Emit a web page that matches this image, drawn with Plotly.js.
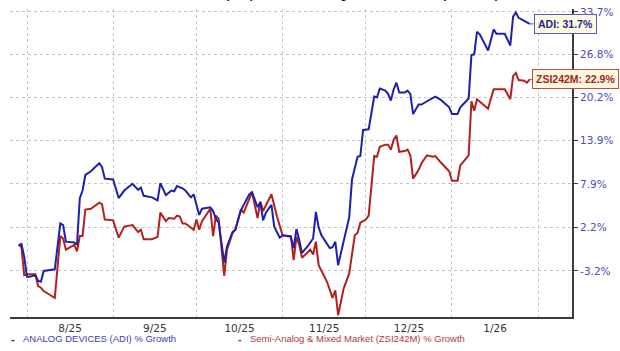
<!DOCTYPE html>
<html>
<head>
<meta charset="utf-8">
<script src="https://cdn.plot.ly/plotly-3.0.1.min.js"></script>
<style>html,body{margin:0;padding:0;background:#fff;}#chart{width:620px;height:351px;}</style>
</head>
<body>
<div id="chart"></div>
<script>
// ---- data (percent growth since start) ----
const adiDates = [
 '2025-07-29','2025-07-30','2025-07-31',
 '2025-08-01','2025-08-02','2025-08-04','2025-08-05','2025-08-06','2025-08-07','2025-08-10','2025-08-11','2025-08-13','2025-08-14','2025-08-15','2025-08-18','2025-08-19','2025-08-20','2025-08-21','2025-08-22','2025-08-24','2025-08-27','2025-08-28','2025-08-29',
 '2025-09-01','2025-09-03','2025-09-05','2025-09-08','2025-09-10','2025-09-11','2025-09-12','2025-09-15','2025-09-17','2025-09-18','2025-09-20','2025-09-22','2025-09-23','2025-09-24','2025-09-26','2025-09-27','2025-09-29','2025-09-30',
 '2025-10-02','2025-10-03','2025-10-06','2025-10-07','2025-10-08','2025-10-09','2025-10-11','2025-10-12','2025-10-14','2025-10-15','2025-10-17','2025-10-18','2025-10-20','2025-10-21','2025-10-23','2025-10-24','2025-10-25','2025-10-26','2025-10-28','2025-10-29','2025-10-31',
 '2025-11-01','2025-11-04','2025-11-05','2025-11-06','2025-11-07','2025-11-08','2025-11-10','2025-11-12','2025-11-13','2025-11-14','2025-11-15','2025-11-18','2025-11-19','2025-11-20','2025-11-21','2025-11-23','2025-11-25','2025-11-26','2025-11-28','2025-11-29','2025-11-30',
 '2025-12-02','2025-12-04','2025-12-05','2025-12-06','2025-12-08','2025-12-09','2025-12-10','2025-12-11','2025-12-12','2025-12-13','2025-12-15','2025-12-16','2025-12-17','2025-12-18','2025-12-20','2025-12-21','2025-12-23','2025-12-26','2025-12-28','2025-12-30','2025-12-31',
 '2026-01-01','2026-01-03','2026-01-04','2026-01-07','2026-01-08','2026-01-09','2026-01-10','2026-01-11','2026-01-14','2026-01-15','2026-01-16','2026-01-17','2026-01-20','2026-01-22','2026-01-23','2026-01-24','2026-01-25','2026-01-27','2026-01-29'
];
const adiGrowth = [
 0.0, 0.1, -1.5,
 -3.9, -3.9, -3.7, -4.4, -4.5, -3.2, -3.0, -3.0, 2.7, 2.5, 0.4, 0.3, 0.0, 6.0, 7.0, 9.1, 9.6, 10.7, 10.2, 8.6,
 8.5, 6.0, 7.0, 7.9, 7.1, 7.4, 6.3, 6.1, 5.7, 8.0, 6.4, 7.0, 6.9, 7.6, 7.3, 7.0, 6.1, 6.5,
 3.8, 4.6, 4.8, 4.3, 3.3, 2.8, -2.2, -0.2, 1.6, 1.9, 4.4, 5.1, 6.5, 6.8, 4.8, 5.5, 3.1, 4.1, 5.1, 2.3, 0.9,
 1.2, 1.0, -0.4, 2.0, 0.6, -1.0, -0.2, 0.8, 4.2, 2.2, 1.2, -0.4, -0.3, 0.4, -2.5, 0.6, 3.5, 8.5, 11.6, 11.7, 15.4,
 15.5, 20.3, 20.2, 21.5, 21.2, 20.7, 19.7, 21.4, 22.4, 20.9, 20.9, 21.2, 20.7, 17.7, 19.1, 19.1, 19.6, 20.3, 19.8, 19.1, 18.7,
 17.7, 17.7, 18.7, 20.0, 26.7, 26.8, 30.4, 30.0, 27.4, 29.2, 30.8, 30.1, 30.1, 28.2, 32.9, 33.6, 32.7, 32.2, 31.7
];
const zsiDates = [
 '2025-07-29','2025-07-30','2025-07-31',
 '2025-08-01','2025-08-04','2025-08-05','2025-08-06','2025-08-07','2025-08-09','2025-08-11','2025-08-13','2025-08-14','2025-08-15','2025-08-18','2025-08-19','2025-08-20','2025-08-21','2025-08-22','2025-08-24','2025-08-27','2025-08-28','2025-08-29',
 '2025-09-01','2025-09-03','2025-09-05','2025-09-08','2025-09-10','2025-09-11','2025-09-12','2025-09-15','2025-09-17','2025-09-18','2025-09-20','2025-09-21','2025-09-23','2025-09-24','2025-09-25','2025-09-26','2025-09-27','2025-09-29','2025-09-30',
 '2025-10-01','2025-10-02','2025-10-03','2025-10-06','2025-10-07','2025-10-08','2025-10-09','2025-10-11','2025-10-12','2025-10-14','2025-10-15','2025-10-17','2025-10-18','2025-10-21','2025-10-23','2025-10-24','2025-10-25','2025-10-28','2025-10-30','2025-10-31',
 '2025-11-01','2025-11-04','2025-11-05','2025-11-06','2025-11-07','2025-11-08','2025-11-10','2025-11-11','2025-11-12','2025-11-13','2025-11-14','2025-11-17','2025-11-19','2025-11-20','2025-11-21','2025-11-23','2025-11-25','2025-11-27','2025-11-28','2025-11-29',
 '2025-12-01','2025-12-02','2025-12-04','2025-12-05','2025-12-06','2025-12-08','2025-12-09','2025-12-10','2025-12-11','2025-12-12','2025-12-13','2025-12-15','2025-12-16','2025-12-17','2025-12-18','2025-12-20','2025-12-21','2025-12-23','2025-12-25','2025-12-26','2025-12-28','2025-12-30','2025-12-31',
 '2026-01-01','2026-01-03','2026-01-04','2026-01-07','2026-01-08','2026-01-09','2026-01-10','2026-01-14','2026-01-15','2026-01-16','2026-01-18','2026-01-20','2026-01-22','2026-01-23','2026-01-24','2026-01-25','2026-01-27','2026-01-28','2026-01-29'
];
const zsiGrowth = [
 0.0, -0.3, -3.7,
 -3.6, -3.6, -5.0, -5.2, -5.6, -6.0, -6.4, 1.1, 0.8, -0.6, 0.0, -0.8, 1.1, 1.1, 4.5, 4.6, 5.4, 5.2, 3.2,
 3.1, 0.9, 2.3, 2.5, 1.6, 1.9, 0.7, 0.7, 1.0, 4.1, 3.0, 3.4, 3.3, 3.7, 3.6, 2.7, 2.7, 2.1, 1.9,
 3.2, 1.9, 3.0, 4.6, 1.1, 3.7, 3.3, -3.8, -0.6, 1.5, 1.9, 4.5, 4.1, 6.8, 3.4, 5.5, 4.3, 6.5, 3.6, 2.5,
 1.2, 1.1, -1.9, 1.0, 0.0, -1.6, -1.0, -0.6, -1.2, 0.4, -2.5, -4.5, -6.4, -5.5, -8.4, -5.3, -3.5, 1.2, 1.5, 2.8,
 3.2, 3.7, 11.7, 11.6, 13.0, 13.3, 13.3, 12.6, 14.0, 14.6, 12.3, 12.4, 12.6, 11.8, 8.6, 9.8, 10.7, 11.8, 11.6, 11.7, 10.8, 10.0, 9.6,
 8.3, 8.3, 10.4, 11.8, 19.6, 18.2, 19.9, 18.5, 20.0, 21.4, 21.4, 21.4, 19.9, 23.4, 23.9, 22.8, 22.7, 22.4, 22.9
];
const yTickPct = [33.7, 26.8, 20.2, 13.9, 7.9, 2.2, -3.2];
const yRangePct = [-8.6, 34.17];
const xRange = ['2025-07-25 21:00', '2026-02-13 05:00'];
const adiName = 'ANALOG DEVICES (ADI) % Growth';
const zsiName = 'Semi-Analog &amp; Mixed Market (ZSI242M) % Growth';
const titleText = 'ANALOG DEVICES (ADI) vs Semi-Analog &amp; Mixed Market (ZSI242M)';

// ---- build ----
const toIdx = p => 1 + p / 100;
const blue = '#1f1fad', red = '#b32020';
const traces = [
  {x: zsiDates, y: zsiGrowth.map(toIdx), type: 'scatter', mode: 'lines', line: {color: red, width: 2}, hoverinfo: 'skip'},
  {x: adiDates, y: adiGrowth.map(toIdx), type: 'scatter', mode: 'lines', line: {color: blue, width: 2}, hoverinfo: 'skip'}
];
const lastA = adiGrowth[adiGrowth.length - 1], lastZ = zsiGrowth[zsiGrowth.length - 1];
const legendFont = {family: 'Liberation Sans, Arial, sans-serif', size: 9.5};
const annotations = [
  {xref: 'paper', yref: 'paper', x: 0.527, y: 1, yanchor: 'bottom', xanchor: 'center', yshift: 5.5, showarrow: false,
   text: '<b>' + titleText + '</b>', font: {family: 'Liberation Sans, Arial, sans-serif', size: 12, color: '#111'}},
  {x: adiDates[adiDates.length - 1], y: Math.log10(toIdx(lastA)), xref: 'x', yref: 'y', showarrow: true, arrowhead: 0, arrowwidth: 1,
   arrowcolor: '#5555c0', ax: 4, ay: 0, xanchor: 'left', text: '<b>ADI: ' + lastA.toFixed(1) + '%</b>',
   font: {family: 'Liberation Sans, Arial, sans-serif', size: 10.5, color: '#26268f'}, bgcolor: '#fdf9e1', bordercolor: '#5a5ac4', borderwidth: 1, borderpad: 3},
  {x: zsiDates[zsiDates.length - 1], y: Math.log10(toIdx(lastZ)), xref: 'x', yref: 'y', showarrow: true, arrowhead: 0, arrowwidth: 1,
   arrowcolor: '#c04040', ax: 2, ay: 0, xanchor: 'left', text: '<b>ZSI242M: ' + lastZ.toFixed(1) + '%</b>',
   font: {family: 'Liberation Sans, Arial, sans-serif', size: 10.5, color: '#a52222'}, bgcolor: '#fdf9e1', bordercolor: '#c44a4a', borderwidth: 1, borderpad: 3},
  {xref: 'paper', yref: 'paper', x: (13 - 10) / 562, y: -0.0714, xanchor: 'center', yanchor: 'middle', showarrow: false,
   text: '<b>-</b>', font: {family: 'Liberation Sans, Arial, sans-serif', size: 11, color: blue}, borderpad: 0},
  {xref: 'paper', yref: 'paper', x: (22 - 10) / 562, y: -0.0714, xanchor: 'left', yanchor: 'middle', showarrow: false,
   text: adiName, font: Object.assign({}, legendFont, {color: '#3c3cb4'}), borderpad: 0},
  {xref: 'paper', yref: 'paper', x: (240 - 10) / 562, y: -0.0714, xanchor: 'center', yanchor: 'middle', showarrow: false,
   text: '<b>-</b>', font: {family: 'Liberation Sans, Arial, sans-serif', size: 11, color: red}, borderpad: 0},
  {xref: 'paper', yref: 'paper', x: (249 - 10) / 562, y: -0.0714, xanchor: 'left', yanchor: 'middle', showarrow: false,
   text: zsiName, font: Object.assign({}, legendFont, {color: '#b23a3a'}), borderpad: 0}
];
const layout = {
  width: 620, height: 351,
  margin: {l: 10, r: 48, t: 9, b: 34, pad: 0},
  paper_bgcolor: '#ffffff', plot_bgcolor: '#ffffff',
  showlegend: false,
  xaxis: {
    type: 'date', range: xRange, dtick: 'M1', tick0: '2025-08-01', ticklabelmode: 'period', tickformat: '%-m/%y',
    showgrid: true, gridcolor: '#c4c4c4', griddash: 'dot', gridwidth: 1,
    showline: true, linecolor: '#3a3a3a', linewidth: 2, ticks: '', zeroline: false,
    tickfont: {family: 'DejaVu Sans, Verdana, sans-serif', size: 10.5, color: '#333333'}
  },
  yaxis: {
    type: 'log', side: 'right', range: yRangePct.map(p => Math.log10(toIdx(p))),
    tickmode: 'array', tickvals: yTickPct.map(toIdx), ticktext: yTickPct.map(p => p.toFixed(1) + '%'),
    showgrid: true, gridcolor: '#c4c4c4', griddash: 'dot', gridwidth: 1,
    showline: true, linecolor: '#3a3a3a', linewidth: 2, ticks: 'outside', ticklen: 4, tickcolor: '#3a3a3a', zeroline: false,
    tickfont: {family: 'DejaVu Sans, Verdana, sans-serif', size: 10.5, color: '#4b4bbd'}
  },
  annotations: annotations
};
Plotly.newPlot('chart', traces, layout, {staticPlot: true, displayModeBar: false});
</script>
</body>
</html>
